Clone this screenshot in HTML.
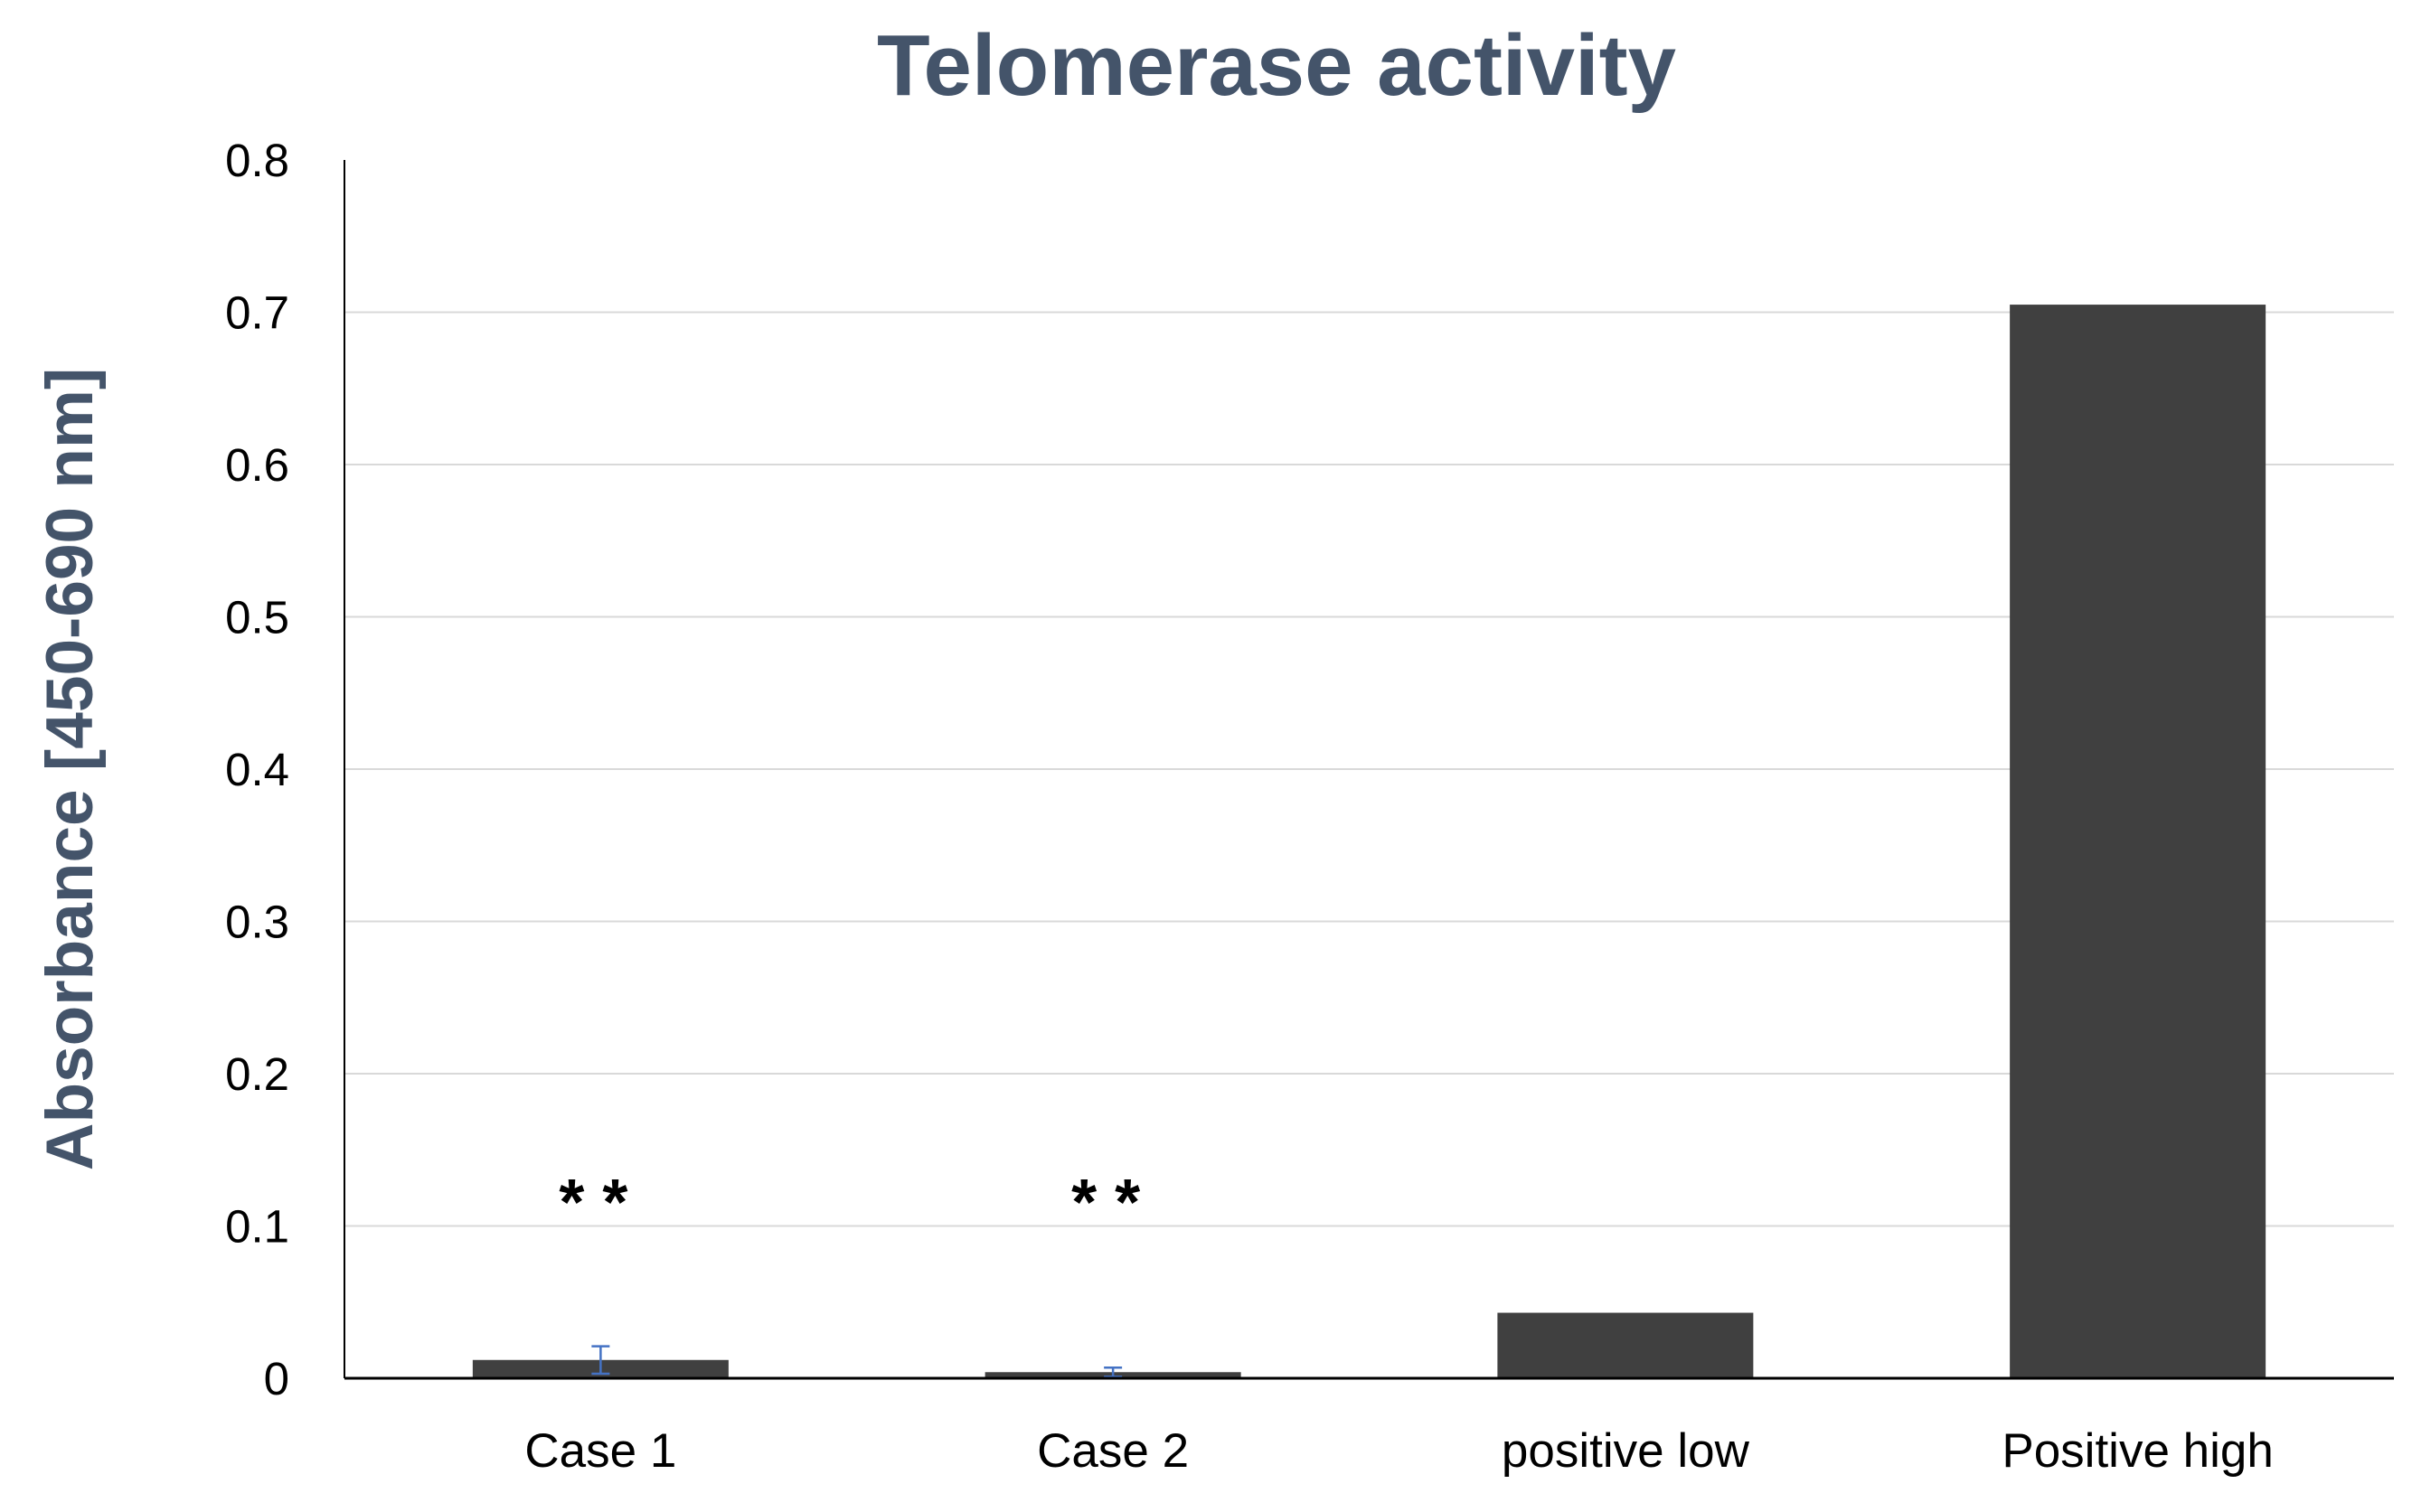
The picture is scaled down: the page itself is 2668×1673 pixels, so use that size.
<!DOCTYPE html>
<html><head><meta charset="utf-8"><style>
html,body{margin:0;padding:0;background:#fff;}
svg{display:block;font-family:"Liberation Sans",sans-serif;}
</style></head><body>
<svg id="chart" width="2668" height="1673" viewBox="0 0 2668 1673" xmlns="http://www.w3.org/2000/svg">
<text x="1412" y="105" text-anchor="middle" font-size="96" font-weight="bold" fill="#44546a">Telomerase activity</text>
<text transform="translate(102,851) rotate(-90)" text-anchor="middle" font-size="73" font-weight="bold" fill="#44546a">Absorbance [450-690 nm]</text>
<g id="grid"></g><g id="bars"></g><g id="labels"></g>
</svg>
<script>
const categories=["Case 1","Case 2","positive low","Positive high"];
const values=[0.012,0.004,0.043,0.705];
const errors=[0.009,0.003,0,0];
const marks=["* *","* *","",""];
const yTicks=[0,0.1,0.2,0.3,0.4,0.5,0.6,0.7,0.8];
const NS="http://www.w3.org/2000/svg";
const X0=381,X1=2648,Y0=1525,Y1=177,YMAX=0.8;
const bw=(X1-X0)/categories.length;
function y(v){return Y0-(v/YMAX)*(Y0-Y1);}
function xc(i){return X0+bw*(i+0.5);}
function mk(t,a,p){const e=document.createElementNS(NS,t);for(const k in a)e.setAttribute(k,a[k]);p.appendChild(e);return e;}
const grid=document.getElementById('grid'),bars=document.getElementById('bars'),lab=document.getElementById('labels');
yTicks.forEach(t=>{
 if(t>0&&t<YMAX){const l=mk('line',{x1:X0,x2:X1,y1:y(t),y2:y(t),stroke:'#d9d9d9','stroke-width':2},grid);
 
 }
 const tx=mk('text',{x:320,y:y(t)+18,'text-anchor':'end','font-size':51,fill:'#000'},lab);
 tx.textContent=String(t);
 
 
});
categories.forEach((c,i)=>{
 const w=283,top=y(values[i]);
 const r=mk('rect',{x:xc(i)-w/2,y:top,width:w,height:Y0-top,fill:'#404040'},bars);
 
 
 if(errors[i]>0){
  const g=mk('g',{stroke:'#4472c4','stroke-width':2.5},bars);
  
  
  const a=y(values[i]+errors[i]),b=y(Math.max(0,values[i]-errors[i]));
  mk('line',{x1:xc(i),x2:xc(i),y1:a,y2:b},g);
  mk('line',{x1:xc(i)-10,x2:xc(i)+10,y1:a,y2:a},g);
  mk('line',{x1:xc(i)-10,x2:xc(i)+10,y1:b,y2:b},g);
 }
 if(marks[i]){const s=mk('text',{x:xc(i)-8,y:1355,'text-anchor':'middle','font-size':72,'font-weight':'bold',fill:'#000'},lab);
 s.textContent=marks[i];
 
 }
 const t=mk('text',{x:xc(i),y:1623,'text-anchor':'middle','font-size':53,fill:'#000'},lab);
 t.textContent=c;
 
 
});
const ax=mk('line',{x1:X0,x2:X0,y1:Y1,y2:Y0,stroke:'#000','stroke-width':2},lab);


const bx=mk('line',{x1:X0,x2:X1,y1:Y0,y2:Y0,stroke:'#000','stroke-width':3},lab);


</script>
</body></html>
